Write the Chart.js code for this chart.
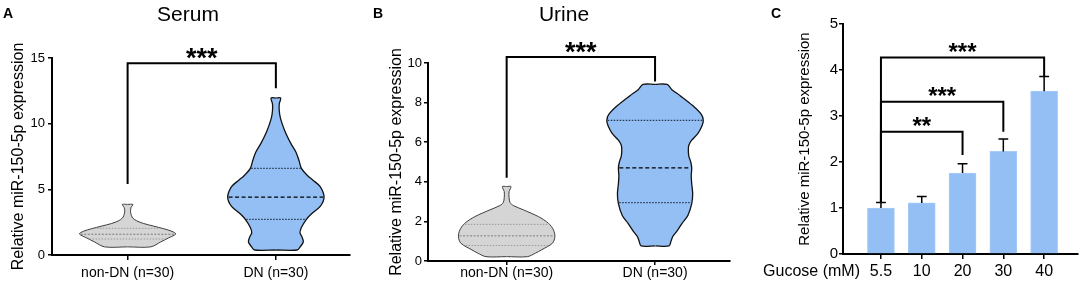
<!DOCTYPE html>
<html lang="en">
<head>
<meta charset="UTF-8" />
<title>miR-150-5p expression</title>
<script src="https://cdn.jsdelivr.net/npm/chart.js"></script>
<style>
  body { margin: 0; background: white; font-family: 'Liberation Sans', Arial, sans-serif; }
  .figure { position: relative; width: 1084px; height: 290px; overflow: hidden; }
  .figure canvas { position: absolute; top: 0; }
  .panel-letter { position: absolute; font-weight: bold; font-size: 14px; line-height: 16px; }
  .panel-title { position: absolute; width: 120px; text-align: center; font-size: 21px; line-height: 28px; }
</style>
</head>
<body>
<div class="figure">
  <canvas id="serum" width="360" height="290" style="left:0"></canvas>
  <canvas id="urine" width="380" height="290" style="left:360px"></canvas>
  <canvas id="glucose" width="364" height="290" style="left:720px"></canvas>
  <div class="panel-letter" style="left:3px; top:5px">A</div>
  <div class="panel-title" style="left:128px; top:0">Serum</div>
  <div class="panel-letter" style="left:373px; top:5px">B</div>
  <div class="panel-title" style="left:504px; top:0">Urine</div>
  <div class="panel-letter" style="left:771px; top:5px">C</div>
</div>

<script>
const FONT = "'Liberation Sans', Arial, sans-serif";
Chart.defaults.font.family = FONT;
Chart.defaults.color = '#000';

const groups = ['non-DN (n=30)', 'DN (n=30)'];

// A - serum: violin outline (value level -> relative half width) and quartiles
const serumNonDNLevels = [0.62, 1.0, 1.3, 1.6, 1.8, 2.0, 2.2, 2.4, 2.6, 2.8, 3.0, 3.3, 3.6, 3.85];
const serumNonDNWidth  = [0.48, 0.69, 0.85, 1.0, 0.92, 0.75, 0.54, 0.33, 0.19, 0.11, 0.08, 0.06, 0.07, 0.11];
const serumNonDNQuart  = [1.22, 1.58, 2.03];
const serumDNLevels = [0.38, 0.6, 1.0, 1.4, 1.7, 2.1, 2.7, 3.1, 3.7, 4.4, 5.2, 5.7, 6.0, 6.6, 7.2, 7.8, 8.5, 9.0, 9.5, 10.0, 10.5, 11.0, 11.5, 11.95];
const serumDNWidth  = [0.44, 0.5, 0.57, 0.54, 0.5, 0.53, 0.63, 0.73, 0.92, 1.0, 0.92, 0.77, 0.67, 0.53, 0.48, 0.42, 0.31, 0.24, 0.18, 0.13, 0.09, 0.07, 0.07, 0.1];
const serumDNQuart  = [2.72, 4.4, 6.6];
const serumBracket  = [5.4, 14.6, 12.7];   // left leg end, bar, right leg end
const serumTicks    = [0, 15, 5];          // min, max, step

// B - urine
const urineNonDNLevels = [0.22, 0.4, 0.56, 0.9, 1.23, 1.57, 1.9, 2.24, 2.58, 2.8, 2.95, 3.2, 3.5, 3.76];
const urineNonDNWidth  = [0.43, 0.6, 0.72, 0.95, 1.0, 0.97, 0.87, 0.66, 0.35, 0.14, 0.07, 0.05, 0.05, 0.09];
const urineNonDNQuart  = [0.78, 1.27, 1.85];
const urineDNLevels = [0.76, 1.0, 1.25, 1.5, 1.9, 2.3, 2.9, 3.4, 3.9, 4.3, 4.7, 5.0, 5.3, 5.6, 5.85, 6.1, 6.45, 6.8, 7.1, 7.4, 7.85, 8.35, 8.65, 8.92];
const urineDNWidth  = [0.29, 0.33, 0.37, 0.45, 0.56, 0.68, 0.76, 0.78, 0.76, 0.75, 0.76, 0.74, 0.7, 0.69, 0.7, 0.76, 0.89, 0.97, 1.0, 0.96, 0.78, 0.52, 0.35, 0.25];
const urineDNQuart  = [2.95, 4.7, 7.1];
const urineBracket  = [4.2, 10.3, 9.07];
const urineTicks    = [0, 10, 2];

// C - glucose
const glucose   = ['5.5', '10', '20', '30', '40'];
const meanExpr  = [1.0, 1.11, 1.76, 2.23, 3.54];
const semExpr   = [0.12, 0.14, 0.2, 0.27, 0.32];
const sigTo     = [3, 4, 5];
const sigTop    = [2.66, 3.31, 4.27];
const sigEnd    = [2.15, 2.66, 3.87];
const sigLabel  = ['**', '***', '***'];
const glucoseTicks = [0, 5, 1];

const K = 0.325; // half width of a violin at its widest, in category units

const greyLook = { fill: '#d5d5d5', edge: '#3c3c3c', edgeWidth: 1, quart: '#9a9a9a', median: '#7a7a7a',
                   quartDash: [1.5, 1.5], medianDash: [2, 1.5], quartWidth: 1 };
const blueLook = { fill: '#93bff5', edge: '#111', edgeWidth: 1.3, quart: '#27354a', median: '#000',
                   quartDash: [1.5, 1.5], medianDash: [4, 2.5], quartWidth: 1.3 };

function widthAt(levels, widths, v) {
  for (let i = 1; i < levels.length; i++) {
    if (v <= levels[i]) {
      const t = (v - levels[i - 1]) / (levels[i] - levels[i - 1]);
      return widths[i - 1] + t * (widths[i] - widths[i - 1]);
    }
  }
  return widths[widths.length - 1];
}

function violin(pos, levels, widths, quart, look) {
  const lo = levels[0], hi = levels[levels.length - 1];
  const sets = [-1, 1].map(side => ({
    data: [{x: pos, y: lo}, ...levels.map((v, i) => ({x: pos + side * widths[i] * K, y: v})), {x: pos, y: hi}],
    fill: {value: pos - side * 0.004},
    backgroundColor: look.fill,
    borderColor: look.edge,
    borderWidth: look.edgeWidth,
    tension: 0.3,
    order: 3
  }));
  quart.forEach((q, i) => {
    const w = widthAt(levels, widths, q) * K - 0.006;
    sets.push({
      data: [{x: pos - w, y: q}, {x: pos + w, y: q}],
      borderColor: i === 1 ? look.median : look.quart,
      borderDash: i === 1 ? look.medianDash : look.quartDash,
      borderWidth: look.quartWidth,
      order: 2
    });
  });
  return sets;
}

function bracket(from, to, legs) {
  return {
    type: 'line',
    data: [{x: from, y: legs[0]}, {x: from, y: legs[1]}, {x: to, y: legs[1]}, {x: to, y: legs[2]}],
    borderColor: '#000', borderWidth: 2, tension: 0, clip: false, order: 1
  };
}

// stars over the brackets, plus any loose axis caption
const sigStars = {
  id: 'sigStars',
  afterDatasetsDraw(chart, args, opts) {
    const {ctx, scales: {x, y}} = chart;
    ctx.save();
    ctx.fillStyle = '#000';
    ctx.textAlign = 'center';
    ctx.textBaseline = 'alphabetic';
    ctx.font = `bold ${opts.size}px ${FONT}`;
    opts.items.forEach(it => {
      const cx = (x.getPixelForValue(it.from) + x.getPixelForValue(it.to)) / 2;
      ctx.fillText(it.text, cx, y.getPixelForValue(it.top) - 12 + 0.58 * opts.size);
    });
    if (opts.caption) {
      ctx.font = `16px ${FONT}`;
      ctx.textAlign = 'right';
      ctx.textBaseline = 'middle';
      ctx.fillText(opts.caption, chart.chartArea.left + 17, chart.chartArea.bottom + 18);
    }
    ctx.restore();
  }
};

function axisOptions(p) {
  return {
    x: {
      type: 'linear', min: p.xMin, max: p.xMax, offset: false,
      afterFit: s => { s.height = p.xHeight; },
      afterBuildTicks: s => { s.ticks = p.xLabels.map((l, i) => ({value: i + 1})); },
      ticks: { callback: (v, i) => p.xLabels[i], font: {size: p.xFont}, padding: p.xPad, maxRotation: 0, autoSkip: false },
      grid: { drawOnChartArea: false, offset: false, tickLength: p.xTick, color: '#000', lineWidth: 1.5 },
      border: { color: '#000', width: 2 }
    },
    y: {
      type: 'linear', min: p.yTicks[0], max: p.yTicks[1],
      afterFit: s => { s.width = p.yWidth; },
      ticks: { stepSize: p.yTicks[2], font: {size: p.yFont}, padding: p.yPad },
      grid: { drawOnChartArea: false, tickLength: 4, color: '#000', lineWidth: 1.5 },
      border: { color: '#000', width: 2 },
      title: { display: true, text: 'Relative miR-150-5p expression', font: {size: p.titleFont},
               padding: {top: p.titleOffset, bottom: 0} }
    }
  };
}

function commonOptions(p, stars) {
  return {
    responsive: false,
    animation: false,
    events: [],
    indexAxis: p.indexAxis,
    layout: { padding: p.padding },
    elements: { point: { radius: 0 } },
    plugins: { legend: { display: false }, tooltip: { enabled: false }, sigStars: stars },
    scales: axisOptions(p)
  };
}

// A
new Chart(document.getElementById('serum'), {
  type: 'line',
  data: { datasets: [
    ...violin(1, serumNonDNLevels, serumNonDNWidth, serumNonDNQuart, greyLook),
    ...violin(2, serumDNLevels, serumDNWidth, serumDNQuart, blueLook),
    bracket(1, 2, serumBracket)
  ]},
  options: commonOptions({
    indexAxis: 'y', padding: {left: 0, top: 58, right: 10, bottom: 0},
    xMin: 0.49, xMax: 2.5, xHeight: 35, xLabels: groups, xFont: 14, xPad: 5, xTick: 5,
    yTicks: serumTicks, yWidth: 52, yFont: 13, yPad: 3, titleFont: 16, titleOffset: 9
  }, { size: 27, items: [{from: 1, to: 2, top: serumBracket[1], text: '***'}] }),
  plugins: [sigStars]
});

// B
new Chart(document.getElementById('urine'), {
  type: 'line',
  data: { datasets: [
    ...violin(1, urineNonDNLevels, urineNonDNWidth, urineNonDNQuart, greyLook),
    ...violin(2, urineDNLevels, urineDNWidth, urineDNQuart, blueLook),
    bracket(1, 2, urineBracket)
  ]},
  options: commonOptions({
    indexAxis: 'y', padding: {left: 0, top: 63, right: 10, bottom: 0},
    xMin: 0.47, xMax: 2.505, xHeight: 29, xLabels: groups, xFont: 14, xPad: 0, xTick: 4,
    yTicks: urineTicks, yWidth: 68, yFont: 13, yPad: 2, titleFont: 16, titleOffset: 27
  }, { size: 27, items: [{from: 1, to: 2, top: urineBracket[1], text: '***'}] }),
  plugins: [sigStars]
});

// C
const errorBars = meanExpr.map((v, i) => ({
  type: 'line',
  data: [{x: i + 1, y: v}, {x: i + 1, y: v + semExpr[i]},
         {x: i + 0.88, y: v + semExpr[i]}, {x: i + 1.12, y: v + semExpr[i]}],
  borderColor: '#000', borderWidth: 1.5, tension: 0, order: 2
}));
const glucoseBrackets = sigTo.map((to, j) => bracket(1, to, [meanExpr[0] + semExpr[0], sigTop[j], sigEnd[j]]));

new Chart(document.getElementById('glucose'), {
  type: 'bar',
  data: { datasets: [
    { type: 'bar', data: meanExpr.map((v, i) => ({x: i + 1, y: v})), backgroundColor: '#93bff5',
      borderColor: '#a6cbf7', borderWidth: 1, barThickness: 27, grouped: false, order: 3 },
    ...errorBars,
    ...glucoseBrackets
  ]},
  options: commonOptions({
    indexAxis: 'x', padding: {left: 0, top: 24, right: 6, bottom: 0},
    xMin: 0.07, xMax: 5.83, xHeight: 36, xLabels: glucose, xFont: 16, xPad: 3, xTick: 5,
    yTicks: glucoseTicks, yWidth: 123, yFont: 15, yPad: 1, titleFont: 15, titleOffset: 76
  }, {
    size: 24,
    items: sigTo.map((to, j) => ({from: 1, to: to, top: sigTop[j], text: sigLabel[j]})),
    caption: 'Gucose (mM)'
  }),
  plugins: [sigStars]
});
</script>
</body>
</html>
